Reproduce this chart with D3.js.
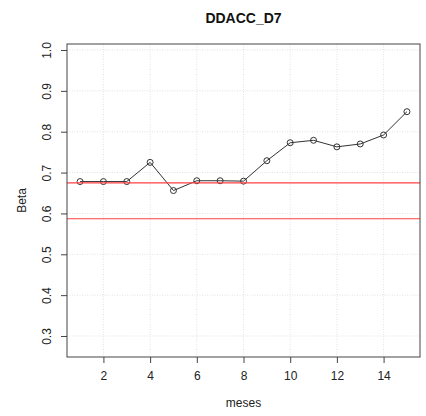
<!DOCTYPE html>
<html>
<head>
<meta charset="utf-8">
<script src="https://cdn.jsdelivr.net/npm/d3@7"></script>
<style>
  html, body { margin: 0; padding: 0; background: #fff; }
  svg { display: block; font-family: "Liberation Sans", Arial, sans-serif; }
</style>
</head>
<body>
<svg id="chart" width="426" height="416"></svg>
<script>
// Monthly beta estimates
const meses = [1, 2, 3, 4, 5, 6, 7, 8, 9, 10, 11, 12, 13, 14, 15];
const beta = [0.678, 0.678, 0.678, 0.725, 0.656, 0.680, 0.680, 0.679, 0.729, 0.773, 0.779, 0.763, 0.770, 0.792, 0.849];
// Reference levels (horizontal red lines)
const refLines = [0.675, 0.587];
const xTicks = [2, 4, 6, 8, 10, 12, 14];
const yTicks = [0.3, 0.4, 0.5, 0.6, 0.7, 0.8, 0.9, 1.0];

const svg = d3.select("#chart");
const plot = { left: 67, right: 420, top: 44, bottom: 357 };

const x = d3.scaleLinear().domain([0.44, 15.56]).range([plot.left, plot.right]);
const y = d3.scaleLinear().domain([0.2486, 1.0147]).range([plot.bottom, plot.top]);

// Grid
const grid = svg.append("g").attr("stroke", "#e2e2e2").attr("stroke-dasharray", "1,1.5").attr("stroke-width", 1);
grid.selectAll("line.gx").data(xTicks).join("line")
  .attr("x1", d => x(d)).attr("x2", d => x(d))
  .attr("y1", plot.top).attr("y2", plot.bottom);
grid.selectAll("line.gy").data(yTicks).join("line")
  .attr("x1", plot.left).attr("x2", plot.right)
  .attr("y1", d => y(d)).attr("y2", d => y(d));

// Data line and points
const line = d3.line().x((d, i) => x(meses[i])).y(d => y(d));
svg.append("path").datum(beta)
  .attr("d", line).attr("fill", "none").attr("stroke", "#333").attr("stroke-width", 1);
svg.append("g").selectAll("circle").data(beta).join("circle")
  .attr("cx", (d, i) => x(meses[i])).attr("cy", d => y(d)).attr("r", 3)
  .attr("fill", "none").attr("stroke", "#333").attr("stroke-width", 1);

// Reference lines
svg.append("g").selectAll("line").data(refLines).join("line")
  .attr("x1", plot.left).attr("x2", plot.right)
  .attr("y1", d => y(d)).attr("y2", d => y(d))
  .attr("stroke", "#ff4040").attr("stroke-width", 1.2);

// Box
svg.append("rect").attr("x", plot.left).attr("y", plot.top)
  .attr("width", plot.right - plot.left).attr("height", plot.bottom - plot.top)
  .attr("fill", "none").attr("stroke", "#444").attr("stroke-width", 1);

// Axes
const xAxis = d3.axisBottom(x).tickValues(xTicks).tickSize(6).tickPadding(8).tickFormat(d3.format("d"));
const gx = svg.append("g").attr("transform", `translate(0,${plot.bottom})`).call(xAxis);
gx.select(".domain").remove();
gx.selectAll("line").attr("stroke", "#444");
gx.selectAll("text").attr("font-size", 12).attr("fill", "#222").attr("font-family", "Liberation Sans, Arial, sans-serif");

const yAxis = d3.axisLeft(y).tickValues(yTicks).tickSize(6).tickFormat(d3.format(".1f"));
const gy = svg.append("g").attr("transform", `translate(${plot.left},0)`).call(yAxis);
gy.select(".domain").remove();
gy.selectAll("line").attr("stroke", "#444");
gy.selectAll("text")
  .attr("font-size", 12).attr("fill", "#222").attr("font-family", "Liberation Sans, Arial, sans-serif")
  .attr("x", null).attr("dy", null)
  .attr("text-anchor", "middle")
  .attr("transform", "translate(-20,0) rotate(-90)")
  .attr("dominant-baseline", "central");

// Titles
svg.append("text").attr("x", (plot.left + plot.right) / 2).attr("y", 23)
  .attr("text-anchor", "middle").attr("font-size", 14).attr("font-weight", "bold").attr("fill", "#111")
  .text("DDACC_D7");
svg.append("text").attr("x", (plot.left + plot.right) / 2).attr("y", 407)
  .attr("text-anchor", "middle").attr("font-size", 12).attr("fill", "#222")
  .text("meses");
svg.append("text").attr("transform", `translate(26,${(plot.top + plot.bottom) / 2}) rotate(-90)`)
  .attr("text-anchor", "middle").attr("font-size", 12).attr("fill", "#222")
  .text("Beta");
</script>
</body>
</html>
